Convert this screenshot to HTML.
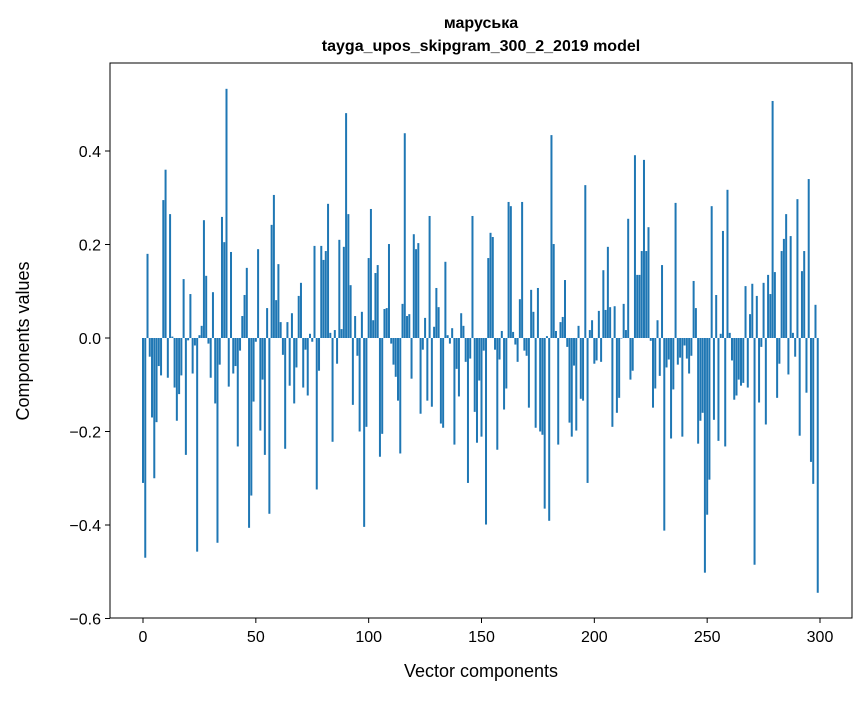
<!DOCTYPE html>
<html><head><meta charset="utf-8"><style>
body{margin:0;background:#fff;}
svg text{font-family:"Liberation Sans","DejaVu Sans",sans-serif;fill:#000;}
</style></head><body>
<svg id="chart" width="867" height="696" xmlns="http://www.w3.org/2000/svg">
<rect width="867" height="696" fill="#fff"/>
<text x="481" y="28" font-size="16" font-weight="bold" text-anchor="middle">маруська</text>
<text x="481" y="51" font-size="16" font-weight="bold" text-anchor="middle">tayga_upos_skipgram_300_2_2019 model</text>
<g id="bars"></g>
<g id="axes"></g>
<text x="481" y="677" font-size="18" text-anchor="middle">Vector components</text>
<text x="0" y="0" font-size="18" text-anchor="middle" transform="translate(29,341) rotate(-90)">Components values</text>
</svg>
<script>
const values = [
-0.31,-0.47,0.18,-0.04,-0.17,-0.30,-0.18,-0.06,-0.08,0.295,
0.36,-0.085,0.265,0.003,-0.106,-0.177,-0.12,-0.08,0.126,-0.25,
-0.005,0.094,-0.076,-0.016,-0.457,0.006,0.026,0.252,0.133,-0.012,
-0.085,0.098,-0.14,-0.438,-0.057,0.259,0.205,0.533,-0.104,0.184,
-0.076,-0.06,-0.232,-0.027,0.047,0.092,0.15,-0.406,-0.337,-0.136,
-0.008,0.19,-0.198,-0.089,-0.25,0.064,-0.376,0.242,0.306,0.081,
0.158,0.034,-0.036,-0.237,0.034,-0.102,0.053,-0.14,-0.063,0.09,
0.118,-0.106,-0.025,-0.123,0.009,-0.008,0.197,-0.324,-0.07,0.197,
0.167,0.186,0.287,0.011,-0.222,0.017,-0.055,0.21,0.019,0.195,
0.481,0.265,0.113,-0.143,0.047,-0.038,-0.2,0.056,-0.404,-0.19,
0.171,0.276,0.038,0.139,0.156,-0.254,-0.205,0.062,0.064,0.201,
-0.012,-0.057,-0.083,-0.134,-0.247,0.073,0.438,0.047,0.051,-0.087,
0.222,0.19,0.203,-0.162,-0.025,0.043,-0.134,0.261,-0.147,0.024,
0.107,0.066,-0.183,-0.192,0.163,0.006,-0.012,0.021,-0.228,-0.066,
-0.125,0.053,0.026,-0.051,-0.31,-0.044,0.261,-0.158,-0.224,-0.091,
-0.211,-0.027,-0.399,0.171,0.225,0.216,-0.025,-0.239,-0.046,0.015,
-0.153,-0.108,0.291,0.282,0.013,-0.014,-0.051,0.083,0.291,-0.027,
-0.038,-0.149,0.103,0.056,-0.192,0.107,-0.2,-0.207,-0.365,0.004,
-0.391,0.434,0.201,0.015,-0.228,0.034,0.045,0.124,-0.019,-0.181,
-0.211,-0.059,-0.198,0.026,-0.13,-0.134,0.327,-0.31,0.017,0.038,
-0.055,-0.048,0.058,-0.051,0.145,0.06,0.195,0.066,-0.19,0.068,
-0.16,-0.128,-0.001,0.073,0.017,0.255,-0.089,-0.07,0.391,0.135,
0.135,0.186,0.381,0.186,0.237,-0.006,-0.149,-0.108,0.038,-0.081,
0.156,-0.412,-0.063,-0.046,-0.215,-0.11,0.289,-0.057,-0.042,-0.211,
-0.016,-0.044,-0.076,-0.038,0.122,0.064,-0.226,-0.177,-0.16,-0.502,
-0.378,-0.303,0.282,-0.175,0.092,-0.22,0.009,0.229,-0.232,0.317,
0.011,-0.048,-0.132,-0.123,-0.089,-0.102,-0.096,0.111,-0.106,0.051,
0.116,-0.485,0.09,-0.138,-0.019,0.118,-0.185,0.135,0.094,0.507,
0.141,-0.128,-0.055,0.186,0.212,0.265,-0.078,0.218,0.011,-0.04,
0.297,-0.209,0.143,0.186,-0.117,0.34,-0.265,-0.312,0.071,-0.545
];
const xTicks = [0,50,100,150,200,250,300];
const yTicks = [0.4,0.2,0.0,-0.2,-0.4,-0.6];
const yTickLabels = ["0.4","0.2","0.0","\u22120.2","\u22120.4","\u22120.6"];

const L=110,T=63,R=852,B=618;
const x = v => 143 + v*(677/300);
const y = v => 338 - v*467.5;
const NS="http://www.w3.org/2000/svg";
const bars=document.getElementById('bars');
const bw=2.0;
values.forEach((v,i)=>{
  const r=document.createElementNS(NS,'rect');
  
  
  const y0=y(0), yv=y(v);
  r.setAttribute('x',x(i)-bw/2);
  r.setAttribute('y',Math.min(y0,yv));
  r.setAttribute('width',bw);
  r.setAttribute('height',Math.abs(yv-y0));
  r.setAttribute('fill','#1f77b4');
  bars.appendChild(r);
});
const axes=document.getElementById('axes');
function add(tag,attrs,text){const e=document.createElementNS(NS,tag);for(const k in attrs)e.setAttribute(k,attrs[k]);if(text!==undefined)e.textContent=text;axes.appendChild(e);return e;}
const frame=add('rect',{x:L,y:T,width:R-L,height:B-T,fill:'none',stroke:'#000','stroke-width':1});


xTicks.forEach(t=>{
  const l=add('line',{x1:x(t),x2:x(t),y1:B,y2:B+5,stroke:'#000'});
  
  
  const tx=add('text',{x:x(t),y:B+24,'font-size':16,'text-anchor':'middle'},String(t));
  
  
});
yTicks.forEach((t,i)=>{
  const l=add('line',{x1:L-5,x2:L,y1:y(t),y2:y(t),stroke:'#000'});
  
  
  const tx=add('text',{x:L-9,y:y(t)+6,'font-size':16,'text-anchor':'end'},yTickLabels[i]);
  
  
});
</script>
</body></html>
